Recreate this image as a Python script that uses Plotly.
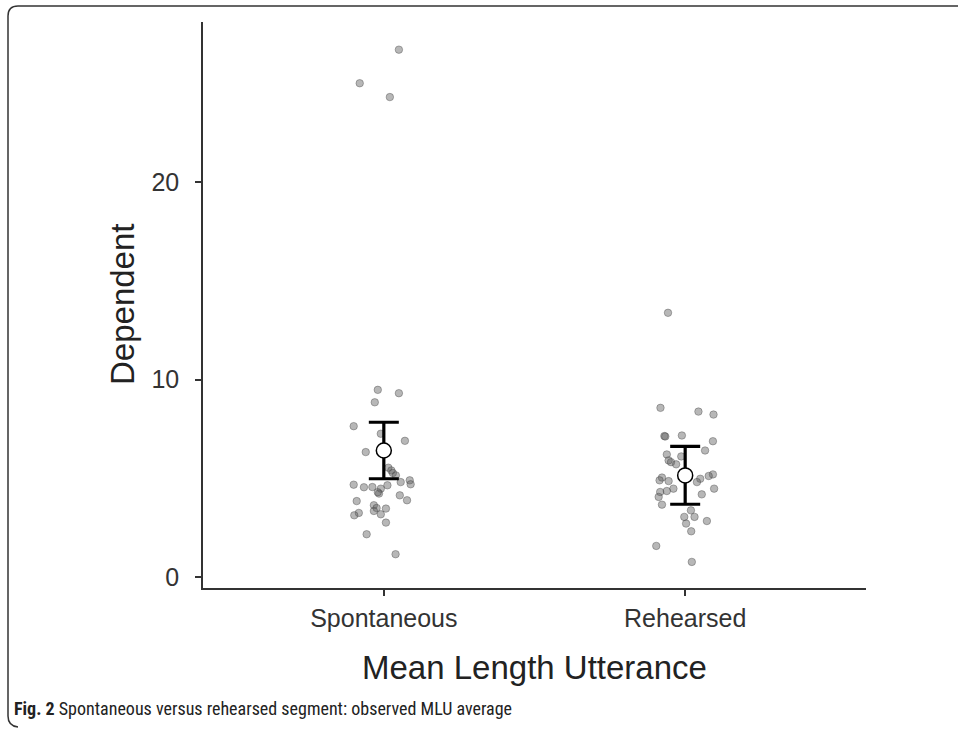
import plotly.graph_objects as go

# ---- data ----
categories = ["Spontaneous", "Rehearsed"]

spont_values = [26.7, 25.0, 24.3, 9.48, 9.31, 8.85, 7.64, 7.26, 6.90, 6.33, 5.54, 5.40, 5.27, 5.15,
                4.68, 4.55, 4.56, 4.48, 4.65, 4.81, 4.90, 4.70, 4.23, 4.30, 4.14, 3.89, 3.85,
                3.64, 3.50, 3.47, 3.35, 3.25, 3.13, 3.18, 2.76, 2.17, 1.16]
spont_jitter = [0.05, -0.08, 0.02, -0.02, 0.05, -0.03, -0.10, -0.01, 0.07, -0.06, 0.015, 0.025, 0.03, 0.04,
                -0.10, -0.066, -0.038, -0.01, 0.012, 0.056, 0.086, 0.089, -0.016, -0.02, 0.053, 0.077, -0.09,
                -0.033, -0.024, 0.007, -0.033, -0.083, -0.098, -0.01, 0.007, -0.057, 0.039]

reh_values = [13.38, 8.57, 8.38, 8.23, 7.14, 7.12, 7.17, 6.88, 6.41, 6.21, 6.11, 5.91, 5.82, 5.71,
              5.20, 5.12, 4.98, 5.04, 4.90, 4.86, 4.81, 4.48, 4.36, 4.48, 4.31, 4.06, 4.19,
              3.67, 3.38, 3.05, 3.05, 2.71, 2.84, 2.32, 1.58, 0.77]
reh_jitter = [-0.057, -0.082, 0.044, 0.094, -0.069, -0.066, -0.011, 0.092, 0.066, -0.061, -0.013, -0.055, -0.047, -0.030,
              0.092, 0.078, 0.050, -0.077, -0.085, -0.055, 0.039, -0.039, -0.061, 0.096, -0.083, -0.088, 0.055,
              -0.077, 0.019, -0.003, 0.031, 0.003, 0.072, 0.020, -0.096, 0.022]

means = [6.41, 5.15]
ci_upper = [7.84, 6.62]
ci_lower = [4.98, 3.69]

y_ticks = [0, 10, 20]
x_title = "Mean Length Utterance"
y_title = "Dependent"
caption_bold = "Fig. 2"
caption_text = " Spontaneous versus rehearsed segment: observed MLU average"

# ---- figure ----
W, H = 958, 729
ml, mr, mt, mb = 203, 92, 22, 141
pw, ph = W - ml - mr, H - mt - mb

def px(x):
    return (x - ml) / pw

def py(y):
    return 1 - (y - mt) / ph

fig = go.Figure()

pts_style = dict(size=7.5, color="rgba(95,95,95,0.45)", line=dict(width=0.8, color="rgba(55,55,55,0.45)"))
for i, (vals, jit) in enumerate([(spont_values, spont_jitter), (reh_values, reh_jitter)]):
    fig.add_trace(go.Scatter(
        x=[i + 1 + j for j in jit], y=vals, mode="markers",
        marker=pts_style, showlegend=False, hoverinfo="y"))

xs = [1, 2]
fig.add_trace(go.Scatter(
    x=xs, y=means, mode="markers",
    marker=dict(size=1, color="rgba(0,0,0,0)"),
    error_y=dict(type="data", symmetric=False,
                 array=[u - m for u, m in zip(ci_upper, means)],
                 arrayminus=[m - l for m, l in zip(means, ci_lower)],
                 color="black", thickness=3.2, width=15),
    showlegend=False, hoverinfo="skip"))
fig.add_trace(go.Scatter(
    x=xs, y=means, mode="markers",
    marker=dict(size=15, color="white", line=dict(width=1.5, color="black")),
    showlegend=False, hoverinfo="y"))

axis_font = dict(family="Liberation Sans, Arial, sans-serif", size=25, color="#333333")

fig.update_xaxes(
    range=[0.4, 2.6], tickmode="array", tickvals=xs, ticktext=categories,
    showline=True, linecolor="#333333", linewidth=1.5,
    ticks="outside", ticklen=6, tickwidth=1.5, tickcolor="#333333",
    showgrid=False, zeroline=False, tickfont=axis_font, ticklabelstandoff=1)
fig.update_yaxes(
    range=[-0.55, 28.1], tickmode="array", tickvals=y_ticks,
    showline=True, linecolor="#333333", linewidth=1.5,
    ticks="outside", ticklen=6, tickwidth=1.5, tickcolor="#333333",
    showgrid=False, zeroline=False, tickfont=axis_font, ticklabelstandoff=11)

title_font = dict(family="Liberation Sans, Arial, sans-serif", size=33, color="#222222")
annotations = [
    dict(text=x_title, x=0.5, y=py(667), xref="paper", yref="paper",
         showarrow=False, font=title_font, xanchor="center", yanchor="middle"),
    dict(text=y_title, x=px(122), y=0.5, xref="paper", yref="paper", textangle=-90,
         showarrow=False, font=title_font, xanchor="center", yanchor="middle"),
    dict(text="<b>" + caption_bold + "</b>" + caption_text, x=px(12), y=py(708),
         xref="paper", yref="paper", showarrow=False, xanchor="left", yanchor="middle",
         font=dict(family="Liberation Sans Narrow, Roboto Condensed, Arial Narrow, sans-serif",
                   size=18, color="#222222")),
]

frame_path = (f"M {px(958)},{py(6)} L {px(18)},{py(6)} Q {px(8)},{py(6)} {px(8)},{py(16)} "
              f"L {px(8)},{py(716)} Q {px(8)},{py(726)} {px(18)},{py(727)}")
shapes = [dict(type="path", path=frame_path, xref="paper", yref="paper",
               line=dict(color="#333333", width=1.5))]

fig.update_layout(
    width=W, height=H, margin=dict(l=ml, r=mr, t=mt, b=mb),
    plot_bgcolor="white", paper_bgcolor="white",
    annotations=annotations, shapes=shapes, showlegend=False)

fig.write_html("out.html", config={"displayModeBar": False},
               post_script="document.body.style.margin='0px';")
